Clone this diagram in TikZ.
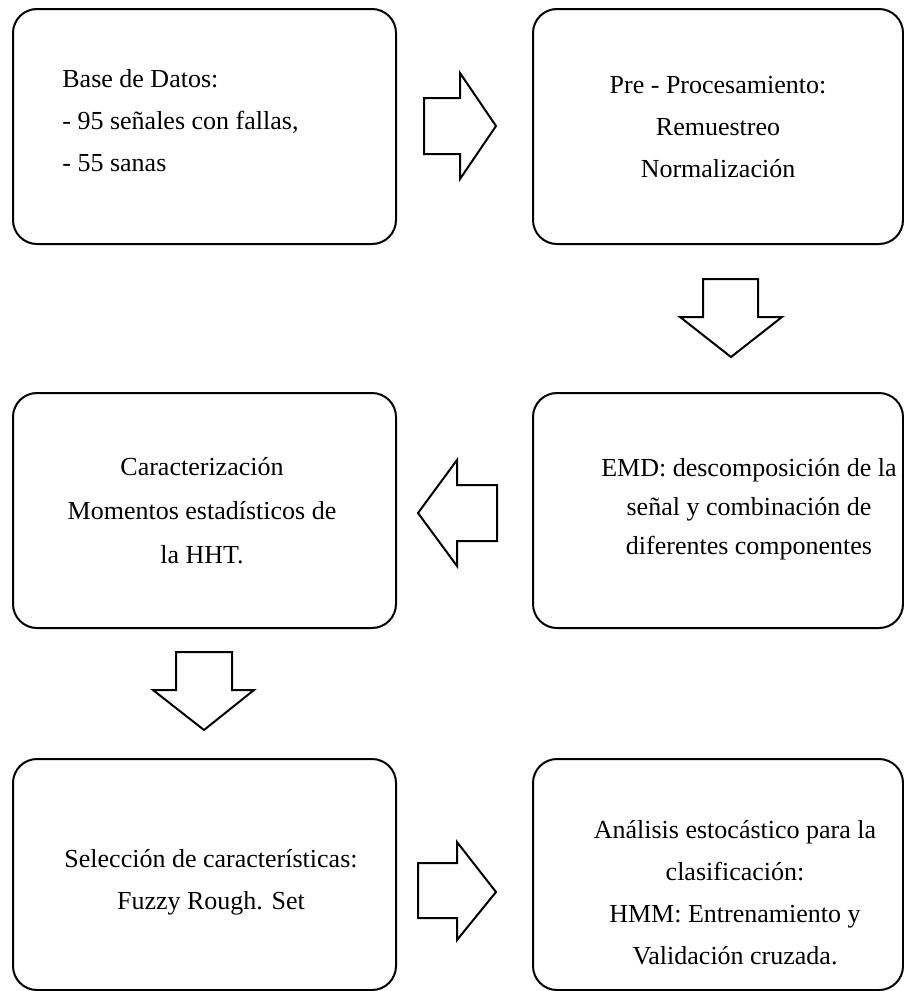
\documentclass[tikz,border=0pt]{standalone}
\usepackage{fontspec}
\setmainfont{Liberation Serif}
\begin{document}
\begin{tikzpicture}[x=0.5pt,y=-0.5pt,
  box/.style={draw, line width=1pt, rounded corners=12pt, minimum width=191.5pt, minimum height=117.5pt, inner sep=0pt},
  boxr/.style={box, minimum width=185pt},
  txt/.style={inner sep=0pt, font=\fontsize{13}{21}\selectfont},
  blockarrow/.style={draw, line width=1pt, line join=miter, fill=white}]
\useasboundingbox (0,0) rectangle (904,991);
% boxes
\node[box]  (b1) at (204.5,126.5) {};
\node[boxr] (b2) at (718,126.5) {};
\node[box]  (b3) at (204.5,510.5) {};
\node[boxr] (b4) at (718,510.5) {};
\node[box, minimum height=115.5pt]  (b5) at (204.5,874.5) {};
\node[boxr, minimum height=115.5pt] (b6) at (718,874.5) {};
% texts
\node[txt, align=left, anchor=west] (t1) at (62,121) {Base de Datos:\\- 95 señales con fallas,\\- 55 sanas};
\node[txt, align=center] (t2) at (718,127) {Pre - Procesamiento:\\Remuestreo\\Normalización};
\node[txt, align=center, font=\fontsize{13}{22}\selectfont] (t3) at (202,511) {Caracterización\\Momentos estadísticos de\\la HHT.};
\node[txt, align=center, font=\fontsize{13}{19.5}\selectfont] (t4) at (749,509) {EMD: descomposición de la\\señal y combinación de\\diferentes componentes};
\node[txt, align=center] (t5) at (211,882) {Selección de características:\\Fuzzy Rough. Set};
\node[txt, align=center] (t6) at (735,893) {Análisis estocástico para la\\clasificación:\\HMM: Entrenamiento y\\Validación cruzada.};
% block arrows
\draw[blockarrow] (424,98) -- (460,98) -- (460,73) -- (496,126) -- (460,179) -- (460,154) -- (424,154) -- cycle;
\draw[blockarrow] (703,279) -- (758,279) -- (758,317) -- (782,317) -- (731,357) -- (680,317) -- (703,317) -- cycle;
\draw[blockarrow] (497,485) -- (457,485) -- (457,460) -- (418,513) -- (457,566) -- (457,541) -- (497,541) -- cycle;
\draw[blockarrow] (176,652) -- (232,652) -- (232,690) -- (254,690) -- (204,730) -- (153,690) -- (176,690) -- cycle;
\draw[blockarrow] (418,863) -- (457,863) -- (457,842) -- (496,892) -- (457,940) -- (457,918) -- (418,918) -- cycle;
\end{tikzpicture}
\end{document}
